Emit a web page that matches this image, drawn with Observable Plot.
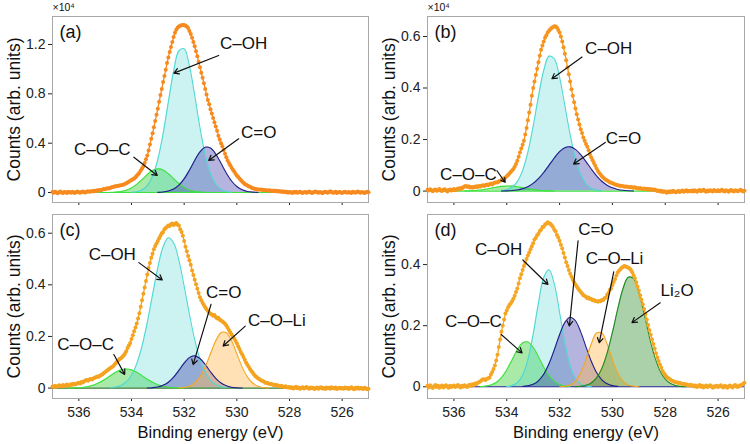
<!DOCTYPE html>
<html>
<head>
<meta charset="utf-8">
<script src="https://cdn.jsdelivr.net/npm/d3@7"></script>
<script src="https://cdn.jsdelivr.net/npm/@observablehq/plot@0.6"></script>
<style>
  body { margin: 0; background: #fff; }
  #fig { position: relative; width: 750px; height: 444px; overflow: hidden; }
  .panel { position: absolute; }
</style>
</head>
<body>
<div id="fig"></div>
<script>
// O 1s scans: counts every 0.05 eV, from 537.00 eV down to 525.00 eV
const scanStart = 537.0;
const scanStep = 0.05;

const countsA = [
  40,-20,60,10,-50,30,80,0,-30,50,20,-40,70,30,-10,60,10,-30,40,90,
  20,-20,50,80,30,0,70,110,60,90,120,90,150,130,180,160,210,190,250,280,
  260,320,350,330,390,420,440,480,500,520,540,560,580,610,650,700,750,820,880,950,
  1010,1070,1130,1230,1350,1480,1600,1780,1950,2130,2400,2700,3000,3400,3900,4350,4800,5300,5800,6300,
  6800,7350,7900,8400,8950,9450,9950,10500,10950,11400,11800,12200,12600,12950,13200,13350,13450,13520,13560,13590,
  13580,13520,13450,13330,13100,12850,12550,12200,11850,11450,11050,10600,10150,9700,9300,8850,8400,7950,7500,7150,
  6750,6400,6050,5700,5350,5000,4600,4300,4000,3750,3450,3150,2850,2600,2400,2200,2000,1850,1700,1520,
  1380,1250,1130,1020,900,800,700,620,560,500,460,400,350,330,290,270,250,240,220,240,
  190,210,160,180,150,190,140,120,160,110,140,90,120,60,100,40,80,30,70,-10,
  50,20,-30,40,10,60,-20,30,70,0,-40,20,50,-10,30,80,20,-30,10,60,
  90,30,-20,40,0,-50,20,70,30,-10,50,100,40,-20,10,60,-30,20,50,0,
  -40,30,70,20,-20,40,10,-30,60,20,-10,50,80,30,-20,40,10,-40,30,60,
  20
];

const countsB = [
  50,20,70,30,-10,40,60,10,30,80,20,0,50,70,30,-20,40,60,20,50,
  80,30,60,100,70,120,90,150,180,200,170,190,140,160,130,170,150,190,160,200,
  180,210,230,200,240,260,230,270,290,260,300,320,340,330,370,400,430,460,500,530,
  580,620,680,740,800,860,940,1050,1180,1330,1500,1650,1800,1950,2200,2450,2750,3050,3350,3700,
  4000,4250,4500,4750,5000,5250,5480,5650,5800,5950,6050,6150,6220,6280,6330,6370,6400,6390,6350,6250,
  6150,6000,5800,5580,5330,5080,4800,4530,4250,3950,3700,3450,3200,2980,2780,2580,2400,2250,2080,1950,
  1830,1720,1580,1420,1300,1200,1090,980,880,780,700,640,580,530,480,440,410,380,340,320,
  300,280,260,250,230,220,200,210,190,180,170,180,160,150,160,140,130,150,120,110,
  100,120,90,80,100,70,90,60,80,50,70,40,60,30,0,20,-20,10,-40,-10,
  -30,-60,-20,-50,-10,-40,10,-30,-50,-20,0,-40,-10,20,-30,0,30,-20,10,-10,
  20,-20,30,0,-30,10,40,-10,20,50,0,-30,20,-10,30,10,-20,40,0,-10,
  30,-10,20,50,0,-20,30,10,-30,20,40,0,-20,30,10,-10,20,50,10,-20,
  10
];

const countsC = [
  60,40,90,50,70,110,80,60,120,90,100,140,110,90,150,130,170,140,160,190,
  210,180,240,220,260,290,310,280,330,350,330,370,400,420,450,440,480,510,540,580,
  620,660,700,740,780,810,850,900,960,1020,1080,1130,1160,1200,1260,1330,1430,1550,1650,1750,
  1900,2050,2200,2350,2500,2700,2900,3150,3400,3650,3900,4150,4400,4650,4850,5050,5200,5380,5500,5600,
  5700,5800,5900,6000,6050,6150,6200,6250,6300,6280,6350,6380,6320,6360,6400,6330,6300,6150,6050,5900,
  5700,5480,5300,5120,4950,4780,4560,4380,4200,4020,3850,3680,3520,3400,3300,3220,3130,3050,2990,2920,
  2880,2850,2800,2830,2750,2700,2720,2650,2620,2580,2540,2490,2420,2340,2250,2160,2080,2000,1920,1830,
  1740,1620,1510,1400,1310,1200,1100,990,900,830,740,660,600,530,470,430,380,350,310,280,
  260,240,200,210,180,160,170,140,120,130,100,110,80,60,90,50,40,70,30,20,
  40,0,30,-20,10,50,-10,20,-30,0,30,-20,10,40,0,-30,20,-10,10,-40,
  -10,20,-30,10,30,-20,0,-40,20,-10,10,-30,30,0,-20,20,-40,-10,10,-20,
  0,-30,20,-10,10,-40,0,30,-20,-50,10,-20,20,-30,0,-10,-40,10,-20,-50,
  -30
];

const countsD = [
  30,-20,50,0,-40,20,60,-10,30,-30,10,40,-20,20,50,0,-30,30,-10,20,
  40,-10,20,60,10,-20,30,0,50,20,-10,40,70,30,80,60,110,90,130,150,
  180,210,250,240,220,260,280,300,400,480,580,700,860,1050,1300,1550,1800,2000,2200,2400,
  2500,2600,2680,2730,2800,2880,2980,3100,3220,3380,3550,3680,3820,3950,4050,4180,4300,4400,4500,4600,
  4700,4820,4870,4960,5010,5100,5140,5230,5240,5310,5340,5390,5350,5340,5290,5230,5140,5090,4970,4890,
  4780,4650,4530,4380,4230,4080,3950,3820,3700,3600,3500,3420,3350,3280,3220,3160,3100,3050,3000,2970,
  2950,2900,2920,2870,2870,2830,2840,2800,2810,2780,2810,2800,2840,2840,2900,2920,3010,3070,3170,3220,
  3330,3430,3530,3640,3740,3800,3850,3900,3920,3950,3940,3920,3900,3870,3820,3750,3650,3550,3420,3280,
  3150,3000,2850,2700,2550,2380,2200,2020,1850,1700,1550,1400,1250,1100,960,840,730,620,520,440,
  380,330,290,260,230,200,190,160,150,140,120,130,110,90,100,70,80,60,40,70,
  30,50,10,40,-10,20,60,0,30,-20,10,40,-10,20,50,10,-30,20,0,30,
  -10,20,50,0,-20,30,10,-30,20,40,0,-20,30,60,10,-10,40,40,70,100,
  130
];

// Fitted components: counts every 0.2 eV, starting at "from" and going down in energy
const compStep = 0.2;

const fitA = [
  {name: "C–O–C", from: 534.8, counts: [10,29,77,179,365,657,1040,1450,1777,1919,1823,1525,1123,728,415,208,92,36,12]},
  {name: "C–OH", from: 534.0, counts: [19,67,208,562,1317,2686,4763,7346,9850,11486,11649,10272,7877,5253,3046,1536,673,257,85,25]},
  {name: "C=O", from: 533.0, counts: [14,43,118,283,596,1106,1808,2601,3293,3671,3601,3110,2364,1581,932,483,220,88,31,10]}
];

const fitB = [
  {name: "C–O–C", from: 535.6, counts: [5,11,23,43,73,111,151,183,199,194,169,131,92,57,32,16,7,3]},
  {name: "C–OH", from: 534.2, counts: [16,53,148,367,796,1511,2514,3666,4681,5237,5135,4411,3319,2188,1264,640,284,110,37,11]},
  {name: "C=O", from: 534.2, counts: [3,8,20,44,90,170,297,481,720,1000,1285,1528,1683,1716,1619,1415,1144,857,594,381,227,125,63,30,13,5]}
];

const fitC = [
  {name: "C–O–C", from: 536.4, counts: [2,6,15,34,70,131,222,343,480,611,705,740,705,611,480,343,222,131,70,34,15,6,2]},
  {name: "C–OH", from: 534.8, counts: [15,41,104,239,499,946,1629,2547,3618,4668,5471,5824,5631,4946,3945,2859,1881,1125,611,301,135,55,20]},
  {name: "C=O", from: 533.4, counts: [4,15,42,105,226,423,687,967,1180,1249,1147,913,631,378,196,88,35,12,3]},
  {name: "C–O–Li", from: 532.2, counts: [7,24,75,195,433,822,1328,1829,2147,2147,1829,1328,822,433,195,75,24,7]}
];

const fitD = [
  {name: "C–O–C", from: 535.0, counts: [6,20,56,140,299,552,880,1210,1434,1467,1293,984,645,365,178,75,27,9]},
  {name: "C–OH", from: 534.0, counts: [9,37,131,376,888,1722,2739,3575,3831,3370,2433,1441,701,280,92,25,5]},
  {name: "C=O", from: 533.4, counts: [10,30,81,195,408,751,1208,1703,2105,2278,2161,1796,1308,834,466,228,98,37,12]},
  {name: "C–O–Li", from: 532.0, counts: [3,15,59,182,451,891,1402,1759,1759,1402,891,451,182,59,15,3]},
  {name: "Li₂O", from: 531.4, counts: [5,16,47,124,291,602,1100,1777,2539,3209,3584,3541,3093,2388,1631,985,526,248,104,38,12,4]}
];

// Peak labels [text, energy, counts] and pointer arrows [e1, c1, e2, c2]
const labelsA = [["C–OH", 529.74, 12110], ["C=O", 529.17, 4890], ["C–O–C", 535.11, 3460]];
const arrowsA = [[530.69, 11110, 532.39, 9680], [529.93, 4350, 531.07, 2600], [533.91, 2860, 533.02, 1380]];

const labelsB = [["C–OH", 530.14, 5530], ["C=O", 529.58, 2020], ["C–O–C", 535.45, 630]];
const arrowsB = [[531.15, 5200, 532.29, 4360], [530.27, 1890, 531.47, 1050], [534.37, 790, 534.06, 340]];

const labelsC = [["C–OH", 534.73, 5180], ["C=O", 530.5, 3690], ["C–O–Li", 528.48, 2600], ["C–O–C", 535.74, 1690]];
const arrowsC = [[533.72, 4860, 532.83, 4190], [530.98, 3240, 531.66, 910], [529.68, 2400, 530.52, 1630], [534.67, 1300, 534.26, 530]];

const labelsD = [["C–OH", 534.31, 4500], ["C=O", 530.62, 5160], ["C–O–Li", 529.92, 4210], ["Li₂O", 527.55, 3140], ["C–O–C", 535.26, 2120]];
const arrowsD = [[533.39, 4150, 532.44, 3350], [531.30, 4780, 531.63, 1990], [529.95, 3760, 530.50, 1440], [528.19, 2750, 529.26, 2100], [534.21, 1710, 533.42, 1110]];

// Axis ticks
const energyTicks = [536, 534, 532, 530, 528, 526];
const countTicksA = [0, 4000, 8000, 12000];
const countTicksB = [0, 2000, 4000, 6000];
const countTicksC = [0, 2000, 4000, 6000];
const countTicksD = [0, 2000, 4000];

const xTitle = "Binding energy (eV)";
const yTitle = "Counts (arb. units)";
const scaleNote = "×10⁴";

// ---- drawing ----
const font = '"Liberation Sans", Arial, Helvetica, sans-serif';

const peakStyle = {
  "C–O–C":  {stroke: "#3ee23e", fill: "#32cd32", op: 0.42},
  "C–OH":   {stroke: "#4fd8d3", fill: "#48d1cc", op: 0.28},
  "C=O":    {stroke: "#1e1e8a", fill: "#3a3aa8", op: 0.38},
  "C–O–Li": {stroke: "#f5a623", fill: "#ffb347", op: 0.40},
  "Li₂O":   {stroke: "#1f8a1f", fill: "#2e8b2e", op: 0.40}
};

const scanPoints = counts => counts.map((c, i) => ({e: +(scanStart - i * scanStep).toFixed(2), c}));
const compPoints = comp => comp.counts.map((c, i) => ({e: +(comp.from - i * compStep).toFixed(2), c}));

function drawPanel(p) {
  const marks = [Plot.frame({stroke: "#a8a8a8"})];
  for (const f of p.fits) {
    const s = peakStyle[f.name];
    marks.push(Plot.areaY(compPoints(f), {x: "e", y: "c", fill: s.fill, fillOpacity: s.op, curve: "catmull-rom"}));
  }
  marks.push(Plot.ruleY([0], {stroke: p.baseColor, strokeWidth: 1.2}));
  for (const f of p.fits) {
    const s = peakStyle[f.name];
    marks.push(Plot.lineY(compPoints(f), {x: "e", y: "c", stroke: s.stroke, strokeWidth: 1.1, curve: "catmull-rom"}));
  }
  const pts = scanPoints(p.counts);
  marks.push(Plot.line(pts, {x: "e", y: "c", stroke: p.scanColor, strokeWidth: 1.3}));
  marks.push(Plot.dot(pts, {x: "e", y: "c", r: 2, fill: p.scanColor, stroke: "none"}));
  marks.push(Plot.arrow(p.arrows, {
    x1: d => d[0], y1: d => d[1], x2: d => d[2], y2: d => d[3],
    stroke: "#111", strokeWidth: 1.2, headLength: 7
  }));
  marks.push(Plot.text(p.labels, {
    x: d => d[1], y: d => d[2], text: d => d[0],
    fontSize: 17, fill: "#111", fontFamily: font
  }));
  marks.push(Plot.text([p.letter], {
    frameAnchor: "top-left", dx: 7, dy: 16, textAnchor: "start", lineAnchor: "middle",
    fontSize: 18, fill: "#111", fontFamily: font
  }));
  marks.push(Plot.text([yTitle], {
    frameAnchor: "left", rotate: -90, dx: -38, textAnchor: "middle", lineAnchor: "middle",
    fontSize: 17.5, fill: "#111", fontFamily: font
  }));
  if (p.showEnergy) {
    marks.push(Plot.text([xTitle], {
      frameAnchor: "bottom", dy: 34, textAnchor: "middle", lineAnchor: "middle",
      fontSize: 16.5, fill: "#111", fontFamily: font
    }));
  }
  if (p.showScale) {
    marks.push(Plot.text([scaleNote], {
      frameAnchor: "top-left", dy: -9, textAnchor: "start", lineAnchor: "middle",
      fontSize: 10.5, fill: "#111", fontFamily: font
    }));
  }

  const svg = Plot.plot({
    width: 375,
    height: p.height,
    marginLeft: 52,
    marginRight: p.marginRight,
    marginTop: p.marginTop,
    marginBottom: p.marginBottom,
    style: {fontFamily: font, fontSize: "14px", color: "#222", background: "transparent", overflow: "visible"},
    x: {
      domain: [537, 525], ticks: energyTicks, tickSize: 3, tickPadding: 6, label: null,
      tickFormat: p.showEnergy ? d => String(d) : () => ""
    },
    y: {
      domain: p.yDomain, ticks: p.yTicks, tickSize: 4, tickPadding: 3, label: null,
      tickFormat: d => String(d / 1e4)
    },
    marks
  });
  const holder = document.createElement("div");
  holder.className = "panel";
  holder.style.left = p.left + "px";
  holder.style.top = p.top + "px";
  holder.appendChild(svg);
  document.getElementById("fig").appendChild(holder);
}

drawPanel({left: 0, top: 0, height: 208, marginTop: 16, marginBottom: 6, marginRight: 7,
  yDomain: [-810, 14270], yTicks: countTicksA, counts: countsA, fits: fitA,
  labels: labelsA, arrows: arrowsA, letter: "(a)", scanColor: "#f7891e", baseColor: "#3ee23e",
  showEnergy: false, showScale: true});

drawPanel({left: 375, top: 0, height: 208, marginTop: 16, marginBottom: 6, marginRight: 6,
  yDomain: [-443, 6775], yTicks: countTicksB, counts: countsB, fits: fitB,
  labels: labelsB, arrows: arrowsB, letter: "(b)", scanColor: "#f7941e", baseColor: "#3ee23e",
  showEnergy: false, showScale: true});

drawPanel({left: 0, top: 208, height: 236, marginTop: 6, marginBottom: 46, marginRight: 7,
  yDomain: [-404, 6725], yTicks: countTicksC, counts: countsC, fits: fitC,
  labels: labelsC, arrows: arrowsC, letter: "(c)", scanColor: "#f5a21f", baseColor: "#2f7a2f",
  showEnergy: true, showScale: false});

drawPanel({left: 375, top: 208, height: 236, marginTop: 6, marginBottom: 46, marginRight: 6,
  yDomain: [-384, 5640], yTicks: countTicksD, counts: countsD, fits: fitD,
  labels: labelsD, arrows: arrowsD, letter: "(d)", scanColor: "#f5a623", baseColor: "#1e1e8a",
  showEnergy: true, showScale: false});
</script>
</body>
</html>
